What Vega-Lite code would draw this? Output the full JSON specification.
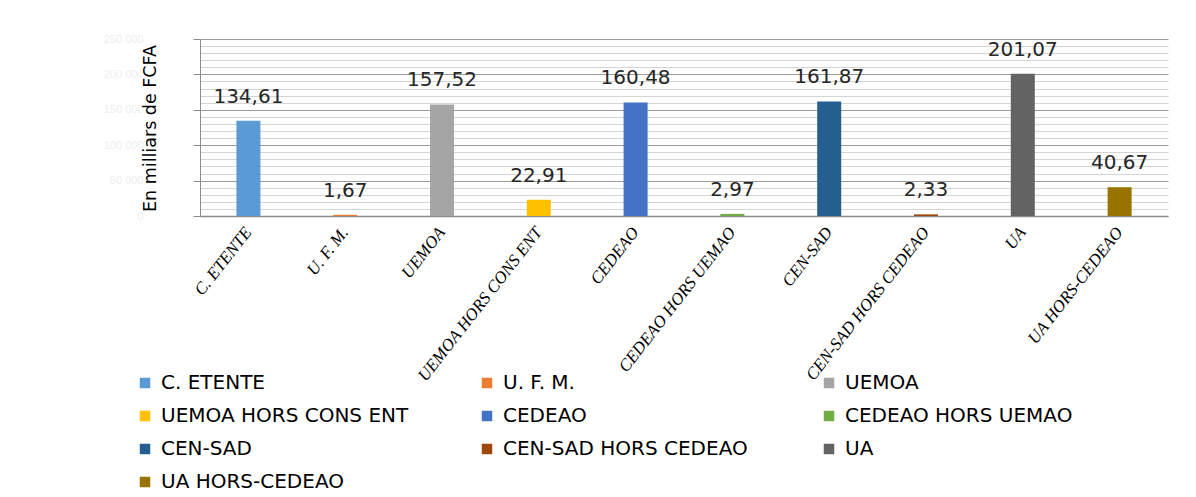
{
  "$schema": "https://vega.github.io/schema/vega-lite/v6.json",
  "width": 968,
  "height": 177,
  "autosize": "none",
  "padding": {"left": 200, "top": 39, "right": 28, "bottom": 281},
  "background": "white",
  "config": {
    "view": {"stroke": null},
    "locale": {"number": {"decimal": ",", "thousands": " ", "grouping": [3], "currency": ["", ""]}}
  },
  "data": {
    "values": [
      {"zone": "C. ETENTE", "value": 134.61},
      {"zone": "U. F. M.", "value": 1.67},
      {"zone": "UEMOA", "value": 157.52},
      {"zone": "UEMOA HORS CONS ENT", "value": 22.91},
      {"zone": "CEDEAO", "value": 160.48},
      {"zone": "CEDEAO HORS UEMAO", "value": 2.97},
      {"zone": "CEN-SAD", "value": 161.87},
      {"zone": "CEN-SAD HORS CEDEAO", "value": 2.33},
      {"zone": "UA", "value": 201.07},
      {"zone": "UA HORS-CEDEAO", "value": 40.67}
    ]
  },
  "encoding": {
    "x": {
      "field": "zone",
      "type": "nominal",
      "sort": null,
      "scale": {"paddingInner": 0.752, "paddingOuter": 0.376},
      "axis": {
        "title": null,
        "labelAngle": -52,
        "labelFont": "Liberation Serif",
        "labelFontStyle": "italic",
        "labelFontSize": 17,
        "labelColor": "#000000",
        "labelPadding": 13,
        "labelLimit": 300,
        "ticks": false,
        "domainColor": "#8c8c8c",
        "domainWidth": 1.5,
        "grid": false
      }
    },
    "y": {
      "field": "value",
      "type": "quantitative",
      "scale": {"domain": [0, 250], "nice": false},
      "axis": {
        "title": "En milliars de FCFA",
        "titleFont": "DejaVu Sans",
        "titleFontSize": 17.5,
        "titleFontWeight": "normal",
        "titleColor": "#000000",
        "titleAngle": -90,
        "titleX": -45,
        "titleY": 89,
        "titleAlign": "center",
        "titleBaseline": "alphabetic",
        "values": [0, 10, 20, 30, 40, 50, 60, 70, 80, 90, 100, 110, 120, 130, 140, 150, 160, 170, 180, 190, 200, 210, 220, 230, 240, 250],
        "grid": true,
        "gridColor": {"condition": {"test": "datum.value % 50 === 0", "value": "#9a9a9a"}, "value": "#d4d4d4"},
        "gridWidth": 1.2,
        "tickColor": {"condition": {"test": "datum.value % 50 === 0", "value": "#8c8c8c"}, "value": "transparent"},
        "tickSize": 7,
        "domainColor": "#8c8c8c",
        "labelExpr": "datum.value % 50 === 0 ? format(datum.value * 1000, ',.0f') : ''",
        "labelColor": "#eeeeee",
        "labelFontSize": 11,
        "labelPadding": 50
      }
    }
  },
  "layer": [
    {
      "mark": {"type": "bar"},
      "encoding": {
        "color": {
          "field": "zone",
          "type": "nominal",
          "sort": null,
          "scale": {
            "domain": ["C. ETENTE", "U. F. M.", "UEMOA", "UEMOA HORS CONS ENT", "CEDEAO", "CEDEAO HORS UEMAO", "CEN-SAD", "CEN-SAD HORS CEDEAO", "UA", "UA HORS-CEDEAO"],
            "range": ["#5B9BD5", "#ED7D31", "#A5A5A5", "#FFC000", "#4472C4", "#70AD47", "#255E91", "#9E480E", "#636363", "#997300"]
          },
          "legend": {
            "title": null,
            "orient": "none",
            "direction": "horizontal",
            "legendX": -65,
            "legendY": 334,
            "columns": 3,
            "gridAlign": "all",
            "columnPadding": 68,
            "rowPadding": 13,
            "padding": 0,
            "symbolType": "square",
            "symbolSize": 110,
            "symbolStrokeWidth": 0,
            "labelFont": "DejaVu Sans",
            "labelFontSize": 20,
            "labelColor": "#000000",
            "labelOffset": 6,
            "labelLimit": 400
          }
        }
      }
    },
    {
      "mark": {"type": "text", "dy": -18, "baseline": "alphabetic", "font": "DejaVu Sans", "fontSize": 20, "color": "#262626"},
      "encoding": {
        "text": {"field": "value", "type": "quantitative", "format": ".2f"}
      }
    }
  ]
}
